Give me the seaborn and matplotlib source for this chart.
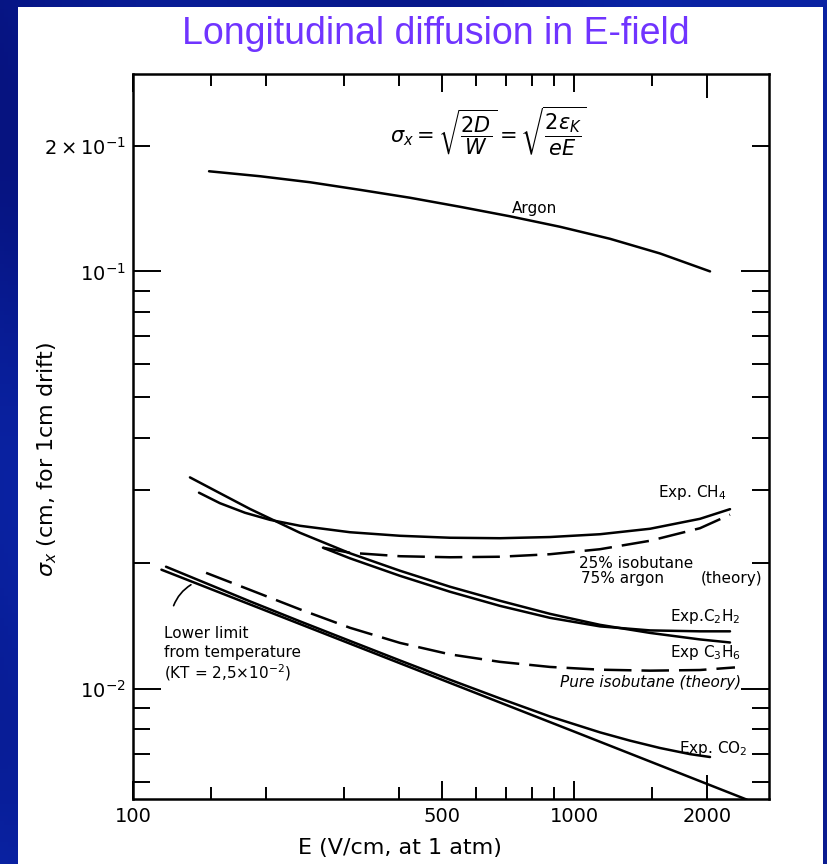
import numpy as np
import matplotlib
matplotlib.use("Agg")
import matplotlib.pyplot as plt
import seaborn as sns
from matplotlib.ticker import FixedLocator, FuncFormatter
from matplotlib.patches import Rectangle
from matplotlib.colors import LinearSegmentedColormap

# ---------------- data ----------------
argon_E = [148.7, 194.1, 251.8, 326.8, 424.2, 550.7, 714.6, 927.7, 1204, 1563, 2029]
argon_s = [0.1737, 0.1690, 0.1635, 0.1568, 0.1501, 0.1428, 0.1355, 0.1279, 0.1197, 0.1104, 0.1000]

ch4_E = [141.1, 157.4, 179.4, 204.3, 238.9, 310.2, 402.6, 522.7, 678.4, 880.5, 1143, 1484, 1925, 2252]
ch4_s = [0.02951, 0.02785, 0.02642, 0.02541, 0.02459, 0.02373, 0.02327, 0.02302, 0.02296,
         0.02311, 0.02347, 0.02419, 0.02555, 0.02695]

c3h6_E = [134.6, 157.4, 184.1, 238.9, 310.2, 402.6, 522.7, 678.4, 880.5, 1143, 1484, 1925, 2252]
c3h6_s = [0.03211, 0.02943, 0.02698, 0.02366, 0.02113, 0.01919, 0.01757, 0.01626, 0.01513,
          0.01424, 0.01362, 0.01314, 0.01292]

c2h2_E = [269.4, 310.2, 402.6, 522.7, 678.4, 880.5, 1143, 1484, 1925, 2252]
c2h2_s = [0.02179, 0.02055, 0.01866, 0.01709, 0.01581, 0.01480, 0.01412, 0.01381, 0.01374, 0.01374]

iso25_E = [269.4, 310.2, 402.6, 522.7, 678.4, 880.5, 1143, 1484, 1925, 2252]
iso25_s = [0.02179, 0.02119, 0.02079, 0.02067, 0.02073, 0.02102, 0.02161, 0.02264, 0.02426, 0.02614]

isopure_E = [146.4, 184.1, 238.9, 310.2, 402.6, 522.7, 678.4, 880.5, 1143, 1484, 1925, 2311]
isopure_s = [0.01897, 0.01727, 0.01551, 0.01401, 0.01289, 0.01210, 0.01161, 0.01129, 0.01112,
             0.01106, 0.01110, 0.01126]

limit_E = [116, 1000, 2460]
limit_s = [0.0193, 0.0079, 0.00543]

co2_E = [118.8, 184.1, 238.9, 310.2, 402.6, 522.7, 678.4, 880.5, 1143, 1336, 1563, 1828, 2029]
co2_s = [0.01962, 0.01621, 0.01452, 0.01303, 0.01170, 0.01052, 0.00949, 0.00859, 0.00787,
         0.00752, 0.00722, 0.00698, 0.00687]

x_major = [100, 500, 1000, 2000]
x_major_labels = ["100", "500", "1000", "2000"]
x_minor = [150, 200, 300, 400, 600, 700, 800, 900, 1500]
y_major = [0.01, 0.1]
y_major_labels = [r"$10^{-2}$", r"$10^{-1}$"]
y_minor = [0.2, 0.09, 0.08, 0.07, 0.06, 0.05, 0.04, 0.03, 0.02,
           0.009, 0.008, 0.007, 0.006]

# ---------------- figure ----------------
sns.set_style("white")
plt.rcParams["font.family"] = ["DejaVu Sans"]
plt.rcParams["mathtext.fontset"] = "dejavusans"
plt.rcParams["text.color"] = "black"
plt.rcParams["axes.labelcolor"] = "black"
plt.rcParams["xtick.color"] = "black"
plt.rcParams["ytick.color"] = "black"

W, H = 827, 864
fig = plt.figure(figsize=(W / 100, H / 100), dpi=100)

# blue slide background
bg = fig.add_axes([0, 0, 1, 1], zorder=-2)
gx, gy = np.meshgrid(np.linspace(0, 1, 200), np.linspace(0, 1, 200))
grad = 0.5 * (gx + gy) + 0.15 * np.sin(9 * (gx - gy))
cmap = LinearSegmentedColormap.from_list("slide", ["#061380", "#0a24a6", "#0a1b8e"])
bg.imshow(grad, cmap=cmap, aspect="auto", extent=[0, 1, 0, 1])
bg.set_axis_off()

fig.add_artist(Rectangle((18 / W, 0), 805 / W, 857 / H, transform=fig.transFigure,
                         facecolor="white", edgecolor="none", zorder=-1))

fig.text(436 / W, 1 - 44 / H, "Longitudinal diffusion in E-field", ha="center",
         va="baseline", fontsize=27, color="#7034ff", family=["Liberation Sans"])

ax = fig.add_axes([133 / W, 65 / H, 636 / W, 725 / H])
ax.set_facecolor("white")
ax.set_xscale("log")
ax.set_yscale("log")

solid_kw = dict(color="black", linewidth=1.8, estimator=None, sort=False, legend=False, ax=ax)
dash = (0, (11, 4))

sns.lineplot(x=argon_E, y=argon_s, **solid_kw)
sns.lineplot(x=ch4_E, y=ch4_s, **solid_kw)
sns.lineplot(x=c3h6_E, y=c3h6_s, **solid_kw)
sns.lineplot(x=c2h2_E, y=c2h2_s, **solid_kw)
sns.lineplot(x=limit_E, y=limit_s, **solid_kw)
sns.lineplot(x=co2_E, y=co2_s, **solid_kw)
sns.lineplot(x=iso25_E, y=iso25_s, linestyle=dash, **solid_kw)
sns.lineplot(x=isopure_E, y=isopure_s, linestyle=dash, **solid_kw)

ax.set_xlim(100, 2760)
ax.set_ylim(0.00545, 0.297)

ax.xaxis.set_major_locator(FixedLocator(x_major))
ax.xaxis.set_major_formatter(FuncFormatter(
    lambda v, p: x_major_labels[x_major.index(min(x_major, key=lambda m: abs(m - v)))]))
ax.xaxis.set_minor_locator(FixedLocator(x_minor))
ax.xaxis.set_minor_formatter(FuncFormatter(lambda v, p: ""))
ax.yaxis.set_major_locator(FixedLocator(y_major))
ax.yaxis.set_major_formatter(FuncFormatter(
    lambda v, p: y_major_labels[0] if v < 0.05 else y_major_labels[1]))
ax.yaxis.set_minor_locator(FixedLocator(y_minor))
ax.yaxis.set_minor_formatter(FuncFormatter(
    lambda v, p: r"$2\times10^{-1}$" if abs(v - 0.2) < 1e-9 else ""))

ax.tick_params(which="both", direction="in", top=True, right=True, bottom=True, left=True,
               labelbottom=True, labelleft=True, colors="black", labelcolor="black",
               width=1.4, labelsize=14)
ax.tick_params(axis="x", which="major", length=13, pad=6)
ax.tick_params(axis="x", which="minor", length=8.5)
ax.tick_params(axis="y", which="major", length=20, pad=5)
ax.tick_params(axis="y", which="minor", length=12, pad=5)
for t in ax.xaxis.get_major_ticks():
    if abs(t.get_loc() - 1000) < 1:
        t.tick1line.set_markersize(17)
        t.tick2line.set_markersize(17)

for sp in ax.spines.values():
    sp.set_visible(True)
    sp.set_color("black")
    sp.set_linewidth(1.8)

ax.set_xlabel("E (V/cm, at 1 atm)", fontsize=16, color="black")
ax.xaxis.set_label_coords((400 - 133) / 636, (799 - 848) / 725)
ax.xaxis.label.set_va("center")
ax.set_ylabel(r"$\sigma_x$ (cm, for 1cm drift)", fontsize=16, color="black")
ax.yaxis.set_label_coords((47 - 133) / 636, (799 - 459) / 725)
ax.yaxis.label.set_va("center")


def P(px, py):
    return ((px - 133) / 636, (799 - py) / 725)


tk = dict(transform=ax.transAxes, fontsize=11, color="black")
ax.text(*P(488, 131), r"$\sigma_x = \sqrt{\dfrac{2D}{W}} = \sqrt{\dfrac{2\epsilon_K}{eE}}$",
        ha="center", va="center", transform=ax.transAxes, fontsize=15, color="black")
ax.text(*P(534, 208), "Argon", ha="center", va="center", **tk)
ax.text(*P(726, 493), r"Exp. CH$_4$", ha="right", va="center", **tk)
ax.text(*P(579, 563), "25% isobutane", ha="left", va="center", **tk)
ax.text(*P(581, 578), "75% argon", ha="left", va="center", **tk)
ax.text(*P(762, 578), "(theory)", ha="right", va="center", **tk)
ax.text(*P(741, 617), r"Exp.C$_2$H$_2$", ha="right", va="center", **tk)
ax.text(*P(741, 653), r"Exp C$_3$H$_6$", ha="right", va="center", **tk)
ax.text(*P(741, 683), "Pure isobutane (theory)", ha="right", va="center", style="italic", **tk)
ax.text(*P(164, 633), "Lower limit", ha="left", va="center", **tk)
ax.text(*P(164, 653), "from temperature", ha="left", va="center", **tk)
ax.text(*P(164, 673), r"(KT = 2,5$\times$10$^{-2}$)", ha="left", va="center", **tk)
ax.text(*P(748, 748), r"Exp. CO$_2$", ha="right", va="center", **tk)
ax.annotate("", xy=(137, 0.0179), xytext=(123, 0.0156),
            arrowprops=dict(arrowstyle="-", color="black", lw=1.2,
                            connectionstyle="arc3,rad=-0.2"))

fig.savefig("out.png", dpi=100)
